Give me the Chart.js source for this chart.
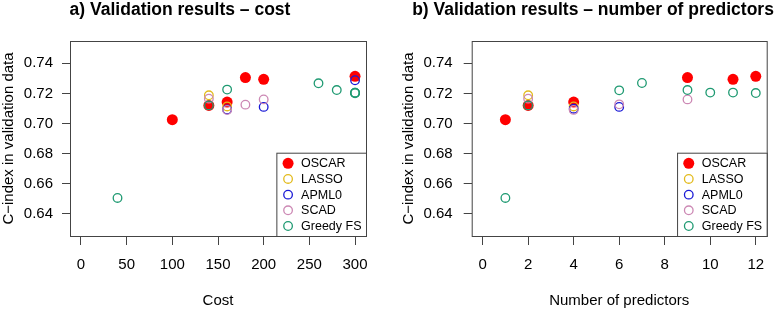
<!DOCTYPE html>
<html>
<head>
<meta charset="utf-8">
<script src="https://cdn.jsdelivr.net/npm/chart.js@4.4.1/dist/chart.umd.min.js"></script>
<style>
    html, body { margin: 0; padding: 0; background: #fff; }
    #wrap { position: relative; width: 777px; height: 310px; }
    canvas { position: absolute; top: 0; }
</style>
</head>
<body>
<div id="wrap">
    <canvas id="costChart" width="388" height="310" style="left:0"></canvas>
    <canvas id="predChart" width="389" height="310" style="left:388px"></canvas>
</div>
<script>
// ---- data ----
const methods = ['OSCAR', 'LASSO', 'APML0', 'SCAD', 'Greedy FS'];
const methodColours = ['#ff0000', '#e3bb1e', '#1a1ad6', '#cc88b4', '#1f9a72'];

// panel a) cost
const oscarCost = [100, 140, 160, 180, 200, 300];
const oscarCostC = [0.7025, 0.712, 0.7142, 0.7305, 0.7293, 0.7313];
const lassoCost = [140, 160];
const lassoCostC = [0.7187, 0.7113];
const apmlCost = [160, 200, 300];
const apmlCostC = [0.7093, 0.711, 0.7287];
const scadCost = [140, 160, 180, 200];
const scadCostC = [0.7165, 0.709, 0.7125, 0.716];
const greedyCost = [40, 140, 160, 260, 280, 300, 300, 300];
const greedyCostC = [0.6505, 0.712, 0.7225, 0.7267, 0.7222, 0.7204, 0.7204, 0.7201];

// panel b) number of predictors
const oscarPred = [1, 2, 4, 9, 11, 12];
const oscarPredC = [0.7025, 0.712, 0.7142, 0.7305, 0.7293, 0.7313];
const lassoPred = [2, 4];
const lassoPredC = [0.7187, 0.7113];
const apmlPred = [4, 6];
const apmlPredC = [0.7098, 0.711];
const scadPred = [2, 4, 6, 9];
const scadPredC = [0.7165, 0.709, 0.7127, 0.716];
const greedyPred = [1, 2, 6, 7, 9, 10, 11, 12];
const greedyPredC = [0.6505, 0.712, 0.722, 0.7269, 0.7222, 0.7205, 0.7205, 0.7202];

// axes
const costTicks = [0, 50, 100, 150, 200, 250, 300];
const predTicks = [0, 2, 4, 6, 8, 10, 12];
const cTicks = [0.64, 0.66, 0.68, 0.70, 0.72, 0.74];
const cRange = [0.6252, 0.7548]; // ylim 0.63-0.75 plus R's 4% padding

const FONT = "'Liberation Sans', Arial, sans-serif";
const AXIS_COL = '#444';

const toPoints = (xs, ys) => xs.map((x, i) => ({ x, y: ys[i] }));

function makeDatasets(series) {
    return series.map((s, i) => ({
        label: methods[i],
        data: toPoints(s[0], s[1]),
        pointRadius: i === 0 ? 5.5 : 4.3,
        pointBorderWidth: i === 0 ? 0 : 1.3,
        pointBackgroundColor: i === 0 ? methodColours[0] : 'rgba(0,0,0,0)',
        pointBorderColor: methodColours[i],
        showLine: false,
        order: methods.length - i // OSCAR underneath, Greedy FS on top (R draw order)
    }));
}

// box round the plot, title and the R-style legend in the bottom right corner
const decorPlugin = {
    id: 'decor',
    afterDatasetsDraw(chart, args, opts) {
        const ctx = chart.ctx;
        const a = chart.chartArea;
        ctx.save();
        ctx.strokeStyle = AXIS_COL;
        ctx.lineWidth = 1;
        ctx.strokeRect(a.left + 0.5, a.top + 0.5, a.right - a.left, a.bottom - a.top);

        // title
        ctx.fillStyle = '#000';
        ctx.font = `bold 17.5px ${FONT}`;
        ctx.textAlign = 'center';
        ctx.textBaseline = 'alphabetic';
        ctx.fillText(opts.title, opts.titleX, 15);

        // legend
        ctx.font = `12.5px ${FONT}`;
        const textW = Math.max(...methods.map(m => ctx.measureText(m).width));
        const w = 24.7 + textW + 4.5;
        const h = 83.3;
        const x0 = a.right - w;
        const y0 = a.bottom - h;
        ctx.fillStyle = '#fff';
        ctx.fillRect(x0, y0, w, h);
        ctx.strokeStyle = AXIS_COL;
        ctx.strokeRect(x0 + 0.5, y0 + 0.5, w, h);
        ctx.textAlign = 'left';
        ctx.textBaseline = 'middle';
        methods.forEach((m, i) => {
            const cy = y0 + 10.6 + i * 15.67;
            ctx.beginPath();
            if (i === 0) {
                ctx.arc(x0 + 11.7, cy, 5.5, 0, Math.PI * 2);
                ctx.fillStyle = methodColours[i];
                ctx.fill();
            } else {
                ctx.arc(x0 + 11.7, cy, 4.3, 0, Math.PI * 2);
                ctx.lineWidth = 1.3;
                ctx.strokeStyle = methodColours[i];
                ctx.stroke();
            }
            ctx.fillStyle = '#000';
            ctx.fillText(m, x0 + 24.7, cy + 0.5);
        });
        ctx.restore();
    }
};

function buildPanel(id, p) {
    const ctx = document.getElementById(id).getContext('2d');
    return new Chart(ctx, {
        type: 'scatter',
        data: { datasets: makeDatasets(p.series) },
        options: {
            responsive: false,
            animation: false,
            events: [],
            layout: { padding: { left: 0, top: 41, right: p.padRight, bottom: 0 } },
            scales: {
                x: {
                    type: 'linear',
                    min: p.xRange[0],
                    max: p.xRange[1],
                    afterBuildTicks: s => { s.ticks = p.xTicks.map(v => ({ value: v })); },
                    afterFit: s => { s.height = 74; },
                    ticks: {
                        color: '#000',
                        font: { family: FONT, size: 15 },
                        padding: 11,
                        maxRotation: 0,
                        autoSkip: false,
                        callback: v => String(v)
                    },
                    grid: { drawOnChartArea: false, drawTicks: true, tickLength: 9, tickColor: AXIS_COL, tickWidth: 1 },
                    border: { display: false },
                    title: { display: true, text: p.xTitle, color: '#000', font: { family: FONT, size: 15 }, padding: 0 }
                },
                y: {
                    type: 'linear',
                    min: cRange[0],
                    max: cRange[1],
                    afterBuildTicks: s => { s.ticks = cTicks.map(v => ({ value: v })); },
                    afterFit: s => { s.width = p.plotLeft; },
                    ticks: {
                        color: '#000',
                        font: { family: FONT, size: 15 },
                        padding: p.yTickPad,
                        callback: v => Number(v).toFixed(2)
                    },
                    grid: { drawOnChartArea: false, drawTicks: true, tickLength: 8, tickColor: AXIS_COL, tickWidth: 1 },
                    border: { display: false },
                    title: {
                        display: true,
                        text: 'C\u2212index in validation data',
                        color: '#000',
                        font: { family: FONT, size: 15 },
                        padding: { top: p.yTitlePad, bottom: 0 }
                    }
                }
            },
            plugins: {
                legend: { display: false },
                tooltip: { enabled: false },
                decor: { title: p.title, titleX: p.titleX }
            }
        },
        plugins: [decorPlugin]
    });
}

buildPanel('costChart', {
    series: [
        [oscarCost, oscarCostC],
        [lassoCost, lassoCostC],
        [apmlCost, apmlCostC],
        [scadCost, scadCostC],
        [greedyCost, greedyCostC]
    ],
    xRange: [-12, 312],
    xTicks: costTicks,
    xTitle: 'Cost',
    title: 'a) Validation results \u2013 cost',
    titleX: 180,
    plotLeft: 70,
    padRight: 22,
    yTickPad: 9,
    yTitlePad: 0
});

buildPanel('predChart', {
    series: [
        [oscarPred, oscarPredC],
        [lassoPred, lassoPredC],
        [apmlPred, apmlPredC],
        [scadPred, scadPredC],
        [greedyPred, greedyPredC]
    ],
    xRange: [-0.48, 12.48],
    xTicks: predTicks,
    xTitle: 'Number of predictors',
    title: 'b) Validation results \u2013 number of predictors',
    titleX: 205,
    plotLeft: 83.7,
    padRight: 10.3,
    yTickPad: 11,
    yTitlePad: 12
});
</script>
</body>
</html>
